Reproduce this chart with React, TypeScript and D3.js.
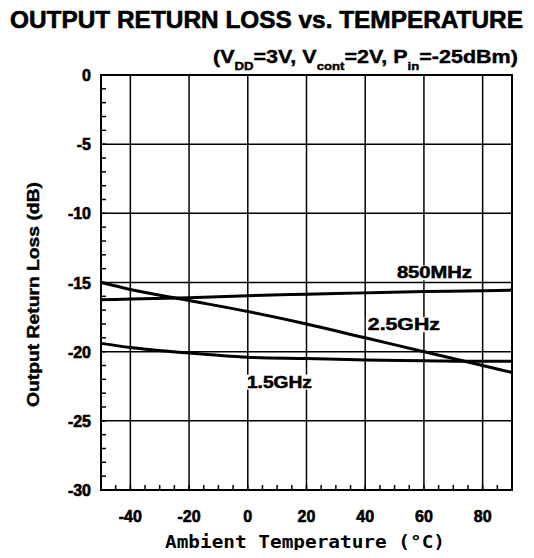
import React, { useEffect, useRef } from 'react'
import * as d3 from 'd3'

// temperatures (°C) where the curves were read
const temps = [-50, -40, -20, 0, 20, 40, 60, 80, 90]
const loss850MHz = [-16.25, -16.2, -16.1, -15.95, -15.85, -15.75, -15.65, -15.6, -15.55]
const loss1500MHz = [-19.4, -19.7, -20.1, -20.4, -20.5, -20.6, -20.65, -20.7, -20.7]
const loss2500MHz = [-15.0, -15.5, -16.3, -17.1, -18.0, -19.0, -20.0, -21.0, -21.5]

const xTicks = [-40, -20, 0, 20, 40, 60, 80]
const yTicks = [0, -5, -10, -15, -20, -25, -30]

const seriesNames = ['850MHz', '2.5GHz', '1.5GHz']
const seriesValues = [loss850MHz, loss2500MHz, loss1500MHz]

export default function App() {
  const ref = useRef<SVGSVGElement>(null)

  useEffect(() => {
    const svg = d3.select(ref.current)
    svg.selectAll('*').remove()

    const margin = { top: 75, left: 101, right: 22, bottom: 68 }
    const width = 534, height = 558
    const innerW = width - margin.left - margin.right
    const innerH = height - margin.top - margin.bottom

    const x = d3.scaleLinear().domain([-50, 90]).range([0, innerW])
    const y = d3.scaleLinear().domain([0, -30]).range([0, innerH])

    const font = 'Liberation Sans, Arial, sans-serif'

    svg.append('text')
      .attr('x', 10).attr('y', 28)
      .attr('textLength', 513).attr('lengthAdjust', 'spacingAndGlyphs')
      .attr('font-family', font).attr('font-weight', 'bold').attr('font-size', 24)
      .attr('stroke', '#000').attr('stroke-width', 0.6)
      .text('OUTPUT RETURN LOSS vs. TEMPERATURE')

    // subtitle with subscripts, stretched to the original width
    const sub = svg.append('text')
      .attr('font-family', font).attr('font-weight', 'bold').attr('font-size', 18)
      .attr('stroke', '#000').attr('stroke-width', 0.4)
    sub.append('tspan').text('(V')
    sub.append('tspan').attr('dy', 7).attr('font-size', 11).text('DD')
    sub.append('tspan').attr('dy', -7).text('=3V, V')
    sub.append('tspan').attr('dy', 7).attr('font-size', 11).text('cont')
    sub.append('tspan').attr('dy', -7).text('=2V, P')
    sub.append('tspan').attr('dy', 7).attr('font-size', 11).text('in')
    sub.append('tspan').attr('dy', -7).text('=-25dBm)')
    const sw = (sub.node() as SVGTextElement).getBBox().width
    sub.attr('transform', `translate(213,63) scale(${305 / sw},1)`)

    const g = svg.append('g').attr('transform', `translate(${margin.left},${margin.top})`)

    // grid
    g.selectAll('.hgrid').data(yTicks).enter().append('line')
      .attr('x1', 0).attr('x2', innerW)
      .attr('y1', d => y(d)).attr('y2', d => y(d))
      .attr('stroke', '#000').attr('stroke-width', 1.5)
    g.selectAll('.vgrid').data(xTicks).enter().append('line')
      .attr('y1', 0).attr('y2', innerH)
      .attr('x1', d => x(d)).attr('x2', d => x(d))
      .attr('stroke', '#000').attr('stroke-width', 1.5)

    // minor ticks, inside
    g.selectAll('.ymin').data(d3.range(-30, 0, 1)).enter().append('line')
      .attr('x1', 0).attr('x2', 5)
      .attr('y1', d => y(d)).attr('y2', d => y(d))
      .attr('stroke', '#000').attr('stroke-width', 1.5)
    g.selectAll('.xmin').data(d3.range(-45, 90, 5)).enter().append('line')
      .attr('y1', innerH).attr('y2', innerH - 5)
      .attr('x1', d => x(d)).attr('x2', d => x(d))
      .attr('stroke', '#000').attr('stroke-width', 1.5)

    g.append('rect').attr('width', innerW).attr('height', innerH)
      .attr('fill', 'none').attr('stroke', '#000').attr('stroke-width', 2)

    // curves
    const line = d3.line<number>()
      .x((_, i) => x(temps[i]))
      .y(d => y(d))
      .curve(d3.curveMonotoneX)
    seriesValues.forEach(v => {
      g.append('path').datum(v)
        .attr('d', line)
        .attr('fill', 'none').attr('stroke', '#000').attr('stroke-width', 3)
    })

    // curve labels: left edge (°C), baseline (dB), width in px
    const labelSpots = [[50.8, -14.7, 75], [40.9, -18.45, 72], [-0.3, -22.6, 65]]
    seriesNames.forEach((name, i) => {
      const [lx, ly, lw] = labelSpots[i]
      const t = g.append('text')
        .attr('x', x(lx)).attr('y', y(ly))
        .attr('textLength', lw).attr('lengthAdjust', 'spacingAndGlyphs')
        .attr('font-family', font).attr('font-weight', 'bold').attr('font-size', 16)
        .attr('stroke', '#000').attr('stroke-width', 0.5)
        .text(name)
      const b = (t.node() as SVGTextElement).getBBox()
      g.insert('rect', 'text')
        .attr('x', b.x - 2).attr('y', b.y + 1).attr('width', b.width + 4).attr('height', b.height - 2)
        .attr('fill', '#fff')
    })

    // tick labels
    g.selectAll('.ylab').data(yTicks).enter().append('text')
      .attr('x', -10).attr('y', d => y(d) + 6)
      .attr('text-anchor', 'end')
      .attr('font-family', font).attr('font-weight', 'bold').attr('font-size', 16)
      .attr('stroke', '#000').attr('stroke-width', 0.6)
      .text(d => d)
    g.selectAll('.xlab').data(xTicks).enter().append('text')
      .attr('x', d => x(d)).attr('y', innerH + 32)
      .attr('text-anchor', 'middle')
      .attr('font-family', font).attr('font-weight', 'bold').attr('font-size', 16)
      .attr('stroke', '#000').attr('stroke-width', 0.6)
      .text(d => d)

    // axis titles
    g.append('text')
      .attr('x', 165 - margin.left).attr('y', innerH + 58)
      .attr('textLength', 280).attr('lengthAdjust', 'spacingAndGlyphs')
      .attr('font-family', 'DejaVu Sans Mono, monospace').attr('font-weight', 'bold').attr('font-size', 18)
      .text('Ambient Temperature (°C)')
    svg.append('text')
      .attr('transform', `translate(39,407) rotate(-90)`)
      .attr('textLength', 225).attr('lengthAdjust', 'spacingAndGlyphs')
      .attr('font-family', font).attr('font-weight', 'bold').attr('font-size', 17)
      .attr('stroke', '#000').attr('stroke-width', 0.4)
      .text('Output Return Loss (dB)')
  }, [])

  return (
    <div style={{ margin: -8, background: '#fff' }}>
      <svg ref={ref} width={534} height={558} style={{ display: 'block' }} />
    </div>
  )
}
